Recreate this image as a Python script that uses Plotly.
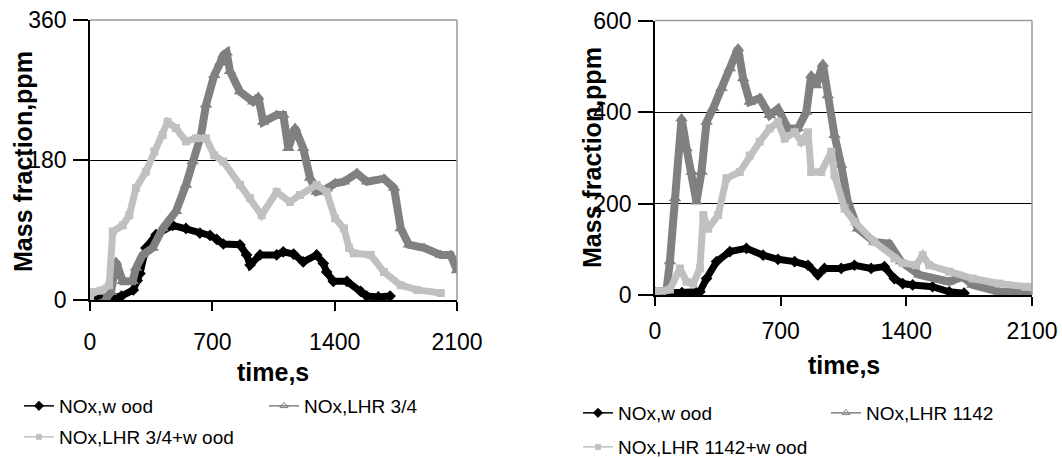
import plotly.graph_objects as go

W, H = 1062, 458

# ---------------- Left chart: LHR 3/4 ----------------
L_wood_t = [0, 40, 100, 180, 248, 270, 286, 320, 378, 473, 549, 629, 687, 725, 763, 858, 896, 916,
            973, 1068, 1106, 1165, 1220, 1297, 1335, 1354, 1392, 1470, 1549, 1583, 1650, 1717]
L_wood_v = [3, 6, 3, 5, 13, 25, 34, 67, 84, 96, 92, 86, 83, 78, 72, 71, 58, 45,
            58, 58, 62, 59, 49, 58, 47, 36, 24, 24, 11, 5, 4, 5]

L_lhr_t = [90, 120, 149, 187, 244, 263, 301, 359, 416, 492, 549, 587, 635, 664, 711, 745, 763, 782,
           801, 858, 934, 963, 991, 1068, 1106, 1135, 1173, 1220, 1259, 1297, 1354, 1402, 1453, 1527,
           1585, 1682, 1740, 1778, 1825, 1911, 2007, 2064, 2100]
L_lhr_v = [2, 10, 49, 24, 24, 41, 58, 67, 92, 114, 148, 178, 212, 251, 289, 305, 315, 318,
           294, 268, 255, 261, 229, 238, 238, 195, 221, 195, 157, 139, 143, 150, 152, 163,
           152, 156, 144, 92, 71, 67, 58, 58, 38]

L_mix_t = [0, 15, 60, 110, 130, 187, 225, 263, 320, 368, 416, 444, 492, 549, 606, 664, 711, 763,
           858, 916, 982, 1068, 1144, 1201, 1297, 1354, 1402, 1453, 1482, 1510, 1606, 1682, 1778,
           1871, 2007]
L_mix_v = [3, 10, 12, 19, 88, 96, 109, 144, 165, 191, 212, 229, 221, 204, 208, 208, 186, 178,
           148, 131, 109, 139, 126, 135, 148, 139, 105, 92, 67, 60, 58, 36, 19,
           13, 9]

# ---------------- Right chart: LHR 1142 ----------------
R_wood_t = [83, 150, 231, 250, 287, 343, 417, 509, 602, 685, 778, 852, 907, 944, 1037, 1111, 1204,
            1278, 1333, 1380, 1435, 1546, 1639, 1722]
R_wood_v = [5, 5, 5, 7, 36, 73, 95, 102, 87, 78, 73, 65, 44, 58, 58, 65, 58,
            62, 36, 25, 22, 18, 7, 4]

R_lhr_t = [0, 64, 83, 111, 148, 176, 204, 231, 259, 287, 324, 370, 417, 463, 491, 528, 583, 639,
           685, 741, 796, 843, 870, 898, 935, 963, 1000, 1037, 1074, 1130, 1222, 1306, 1371, 1472,
           1639, 1713, 1769, 1917, 2083, 2100]
R_lhr_v = [7, 10, 73, 211, 386, 320, 269, 204, 269, 378, 408, 452, 495, 539, 473, 422, 430, 393,
           407, 364, 364, 400, 480, 458, 505, 436, 349, 284, 204, 145, 116, 112, 73, 44,
           29, 40, 22, 7, 4, 5]

R_mix_t = [0, 83, 139, 176, 213, 250, 269, 296, 352, 398, 472, 528, 583, 639, 685, 722, 778, 815,
           852, 870, 926, 982, 1000, 1056, 1111, 1222, 1333, 1378, 1454, 1491, 1528, 1639, 1769,
           1917, 2065, 2100]
R_mix_v = [7, 12, 58, 29, 25, 58, 175, 145, 175, 255, 269, 305, 335, 364, 378, 342, 356, 335,
           356, 269, 269, 313, 262, 189, 160, 116, 80, 70, 65, 87, 65, 51, 36,
           25, 18, 17]

x_ticks = [0, 700, 1400, 2100]
L_y_ticks = [0, 180, 360]
R_y_ticks = [0, 200, 400, 600]

L_names = ["NOx,w ood", "NOx,LHR 3/4", "NOx,LHR 3/4+w ood"]
R_names = ["NOx,w ood", "NOx,LHR 1142", "NOx,LHR 1142+w ood"]

x_title = "time,s"
y_title = "Mass fraction,ppm"

FONT = "Liberation Sans, Arial, sans-serif"
C_BLACK = "#000000"
C_DARK = "#808080"
C_LIGHT = "#c0c0c0"

styles = [
    dict(color=C_BLACK, symbol="diamond", size=9, lsym=7, lwidth=7),
    dict(color=C_DARK, symbol="triangle-up", size=11, lsym=7, lwidth=8),
    dict(color=C_LIGHT, symbol="square", size=8, lsym=5, lwidth=7),
]
legend_symbols = ["diamond", "triangle-up-open", "square"]

fig = go.Figure()


def px2x(p):
    return p / W


def px2y(p):
    return 1 - p / H


def add_chart(series, names, xa, ya, legend_ids):
    for (t, v), nm, st, lid, lsym in zip(series, names, styles, legend_ids, legend_symbols):
        fig.add_trace(go.Scatter(
            x=t, y=v, mode="lines+markers", name=nm, showlegend=False,
            xaxis=xa, yaxis=ya,
            line=dict(color=st["color"], width=st["lwidth"]),
            marker=dict(color=st["color"], symbol=st["symbol"], size=st["size"], line=dict(width=0)),
        ))
        # legend entry (thin line + small marker like the original key)
        fig.add_trace(go.Scatter(
            x=[None], y=[None], mode="lines+markers", name=nm, showlegend=True,
            legend=lid, xaxis=xa, yaxis=ya,
            line=dict(color=st["color"], width=1.5),
            marker=dict(color=st["color"], symbol=lsym, size=st["lsym"],
                        line=dict(color=st["color"], width=1)),
        ))


add_chart([(L_wood_t, L_wood_v), (L_lhr_t, L_lhr_v), (L_mix_t, L_mix_v)], L_names,
          "x", "y", ["legend", "legend2", "legend3"])
add_chart([(R_wood_t, R_wood_v), (R_lhr_t, R_lhr_v), (R_mix_t, R_mix_v)], R_names,
          "x2", "y2", ["legend4", "legend5", "legend6"])

axis_common = dict(
    showline=True, linecolor="black", linewidth=1.5,
    ticks="outside", tickcolor="black", tickwidth=1.5,
    tickfont=dict(family=FONT, size=23, color="black"),
    zeroline=False, fixedrange=True, automargin=False,
)

L_dom_x = [px2x(90), px2x(457)]
L_dom_y = [px2y(300), px2y(20)]
R_dom_x = [px2x(655), px2x(1032)]
R_dom_y = [px2y(295), px2y(20.5)]

fig.update_layout(
    width=W, height=H,
    margin=dict(l=0, r=0, t=0, b=0, autoexpand=False),
    paper_bgcolor="white", plot_bgcolor="white",
    font=dict(family=FONT, color="black"),
    xaxis=dict(domain=L_dom_x, range=[0, 2100], tickvals=x_ticks, anchor="y",
               showgrid=False, ticklen=9, ticklabelstandoff=12, **axis_common),
    yaxis=dict(domain=L_dom_y, range=[0, 360], tickvals=L_y_ticks, anchor="x",
               showgrid=True, gridcolor="black", gridwidth=1.2, ticklen=15,
               ticklabelstandoff=2, **axis_common),
    xaxis2=dict(domain=R_dom_x, range=[0, 2100], tickvals=x_ticks, anchor="y2",
                showgrid=False, ticklen=9, ticklabelstandoff=6, **axis_common),
    yaxis2=dict(domain=R_dom_y, range=[0, 600], tickvals=R_y_ticks, anchor="x2",
                showgrid=True, gridcolor="black", gridwidth=1.2, ticklen=15,
                ticklabelstandoff=2, **axis_common),
    showlegend=True,
)

# legends: one per entry, placed like the original key
leg_font = dict(family=FONT, size=19, color="black")
leg_pos = {
    "legend": (19, 406), "legend2": (264, 406), "legend3": (19, 437),
    "legend4": (578, 413), "legend5": (826, 413), "legend6": (578, 447),
}
for lid, (lx, ly) in leg_pos.items():
    fig.update_layout({lid: dict(x=px2x(lx), y=px2y(ly), xanchor="left", yanchor="middle",
                                 font=leg_font, bgcolor="rgba(0,0,0,0)", borderwidth=0,
                                 orientation="h", tracegroupgap=0)})

# gray frame on top and right of each plot area
for xr, yr in (("x", "y"), ("x2", "y2")):
    fig.add_shape(type="line", xref=f"{xr} domain", yref=f"{yr} domain",
                  x0=0, x1=1, y0=1, y1=1, line=dict(color="#999999", width=1.5), layer="above")
    fig.add_shape(type="line", xref=f"{xr} domain", yref=f"{yr} domain",
                  x0=1, x1=1, y0=0, y1=1, line=dict(color="#999999", width=1.5), layer="above")

# axis titles
title_font = dict(family=FONT, size=25, color="black")
fig.add_annotation(text=f"<b>{x_title}</b>", xref="paper", yref="paper",
                   x=px2x(273), y=px2y(372), showarrow=False, font=title_font,
                   xanchor="center", yanchor="middle")
fig.add_annotation(text=f"<b>{x_title}</b>", xref="paper", yref="paper",
                   x=px2x(844), y=px2y(365), showarrow=False, font=title_font,
                   xanchor="center", yanchor="middle")
fig.add_annotation(text=f"<b>{y_title}</b>", xref="paper", yref="paper",
                   x=px2x(23), y=px2y(162), showarrow=False, font=title_font, textangle=-90,
                   xanchor="center", yanchor="middle")
fig.add_annotation(text=f"<b>{y_title}</b>", xref="paper", yref="paper",
                   x=px2x(592), y=px2y(158), showarrow=False, font=title_font, textangle=-90,
                   xanchor="center", yanchor="middle")

fig.write_html("out.html", config={"displayModeBar": False},
               post_script="document.body.style.margin='0';")
